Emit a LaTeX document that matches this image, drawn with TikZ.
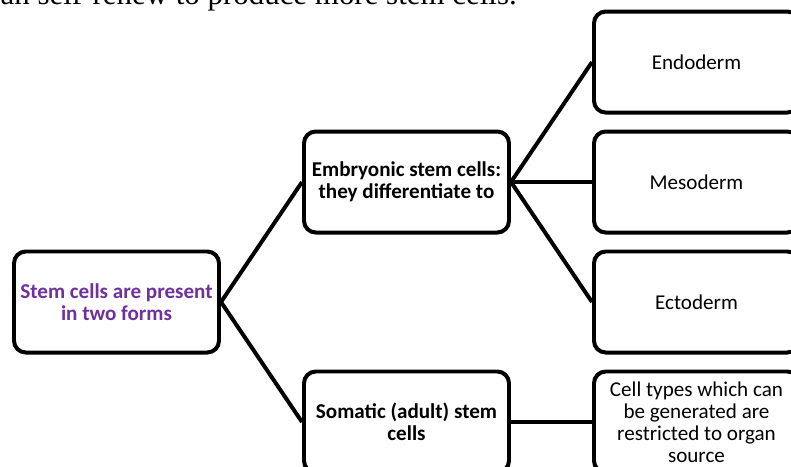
\documentclass[tikz,border=0pt]{standalone}
\usepackage{fontspec}
\setmainfont{Carlito}
\newfontfamily\bodyserif{Liberation Serif}
\usetikzlibrary{positioning}
\definecolor{stemPurple}{HTML}{7030A0}
\tikzset{
    cellbox/.style={draw=black,fill=white,line width=3.4pt,rounded corners=10pt,
        minimum width=6.15cm,minimum height=3.03cm,align=center,inner sep=2pt,
        font=\fontsize{18}{18.7}\selectfont},
    boldbox/.style={cellbox,font=\fontsize{18}{18.7}\selectfont\bfseries},
    link/.style={draw=black,line width=3.4pt}
}

\begin{document}
\begin{tikzpicture}[x=0.03cm,y=0.03cm,node distance=0.45cm and 2.43cm]
    \useasboundingbox (0,0) rectangle (791,-466);
    % line of body text cut by the page top
    \node[anchor=base east,inner sep=0pt,font=\bodyserif\fontsize{26.4}{30}\selectfont] (lead) at (517,-4.5) {can self-renew to produce more stem cells.};
    \node[boldbox,text=stemPurple] (stem) at (116.5,-302) {Stem cells are present\\in two forms};
    \node[boldbox] (embryo) [above right=of stem] {Embryonic stem cells:\\they differentiate to};
    \node[boldbox] (somatic) [below right=of stem] {Somatic (adult) stem\\cells};
    \node[cellbox] (meso) [right=of embryo] {Mesoderm};
    \node[cellbox] (endo) [above=of meso] {Endoderm};
    \node[cellbox] (ecto) [below=of meso] {Ectoderm};
    \node[cellbox] (organ) [right=of somatic] {Cell types which can\\be generated are\\restricted to organ\\source};
    \draw[link] (stem.east) -- (embryo.west);
    \draw[link] (stem.east) -- (somatic.west);
    \draw[link] (embryo.east) -- (endo.west);
    \draw[link] (embryo.east) -- (meso.west);
    \draw[link] (embryo.east) -- (ecto.west);
    \draw[link] (somatic.east) -- (organ.west);
\end{tikzpicture}
\end{document}
